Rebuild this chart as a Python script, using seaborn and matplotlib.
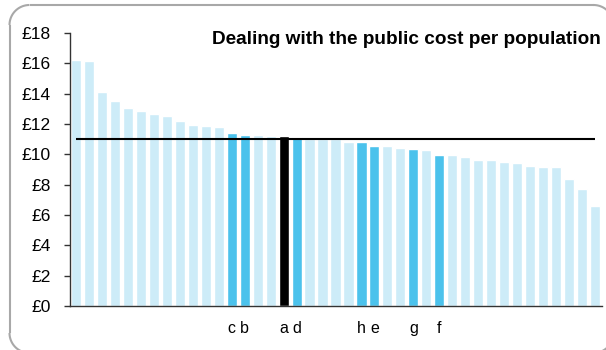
import matplotlib
matplotlib.use("Agg")
import matplotlib.pyplot as plt
import numpy as np
from matplotlib.transforms import Bbox
import pandas as pd
import seaborn as sns

# Cost per head of population for each authority, sorted high to low
values = [16.2, 16.13, 14.1, 13.5, 13.05, 12.85, 12.63, 12.5, 12.2, 11.95,
          11.9, 11.8, 11.4, 11.27, 11.27, 11.23, 11.2, 11.14, 11.03, 11.02,
          11.0, 10.83, 10.81, 10.57, 10.52, 10.44, 10.33, 10.28, 9.97, 9.93,
          9.82, 9.6, 9.6, 9.49, 9.43, 9.2, 9.16, 9.16, 8.37, 7.73, 6.61]
labels = [""] * 12 + ["c", "b", "", "", "a", "d", "", "", "", "", "h", "e",
                      "", "", "g", "", "f"] + [""] * 12
# "focus" = the authority itself, "peer" = named comparators, "other" = rest
groups = ["other"] * 12 + ["peer", "peer", "other", "other", "focus", "peer",
                           "other", "other", "other", "other", "peer", "peer",
                           "other", "other", "peer", "other", "peer"] + ["other"] * 12
average = 11.0
y_ticks = list(range(0, 19, 2))
title = "Dealing with the public cost per population"

palette = {"other": "#CDECF8", "peer": "#4BC2EC", "focus": "#000000"}

sns.set_theme(style="white")
plt.rcParams["font.family"] = ["Liberation Sans", "DejaVu Sans"]
plt.rcParams["savefig.bbox"] = "standard"

df = pd.DataFrame({"pos": range(len(values)), "cost": values, "group": groups})

W, H = 606, 350
fig = plt.figure(figsize=(W / 100, H / 100), dpi=100)
fig.patch.set_edgecolor("none")
fig.patch.set_linewidth(0)

# Full-figure overlay in pixel units for the rounded frame; only the parts
# that fall inside the canvas are traced (left and top edges, four corners)
bg = fig.add_axes([0, 0, 1, 1], zorder=-1)
bg.set_xlim(0, W)
bg.set_ylim(0, H)
bg.axis("off")
x0, x1, y0, y1, r = 9.5, 613.5, -3.0, 345.0, 20.0


def arc(cx, cy, a0, a1):
    t = np.radians(np.linspace(a0, a1, 30))
    return cx + r * np.cos(t), cy + r * np.sin(t)


segments = [
    ([x0, x0], [y0 + r, y1 - r]),
    ([x0 + r, x1 - r], [y1, y1]),
    arc(x0 + r, y1 - r, 90, 180),
    arc(x1 - r, y1 - r, 0, 90),
    arc(x0 + r, y0 + r, 180, 270),
    arc(x1 - r, y0 + r, 270, 360),
]
for xs, ys in segments:
    bg.plot(xs, ys, color="#A8A8A8", linewidth=1.5, solid_capstyle="butt")

ax = fig.add_axes([69.5 / W, 44 / H, 532 / W, 273 / H])
ax.patch.set_alpha(0)

sns.barplot(data=df, x="pos", y="cost", hue="group", palette=palette,
            dodge=False, width=0.78, legend=False, ax=ax, saturation=1)

ax.hlines(average, 0, len(values) - 1, color="#000000", linewidth=1.5, zorder=5)

ax.set_xlim(-0.5, len(values) - 0.5)
ax.set_ylim(0, 18)
ax.set_yticks(y_ticks)
ax.set_yticklabels([f"£{v}" for v in y_ticks])
ax.set_xticks(range(len(values)))
ax.set_xticklabels(labels)
ax.set_xlabel("")
ax.set_ylabel("")

for side in ("top", "right"):
    ax.spines[side].set_visible(False)
for side in ("left", "bottom"):
    ax.spines[side].set_color("#333333")
    ax.spines[side].set_linewidth(1.0)

ax.tick_params(axis="y", length=4.5, width=1, color="#333333", pad=9,
               labelsize=12.5, labelcolor="#000000", left=True)
ax.tick_params(axis="x", length=0, pad=11, labelsize=11.5, labelcolor="#000000")

fig.text(601 / W, 1 - 44 / H, title, ha="right", va="baseline",
         fontsize=13.7, fontweight="bold", color="#000000")

fig.savefig("out.png", dpi=100,
            bbox_inches=Bbox([[0, 0], [W / 100, H / 100]]))
